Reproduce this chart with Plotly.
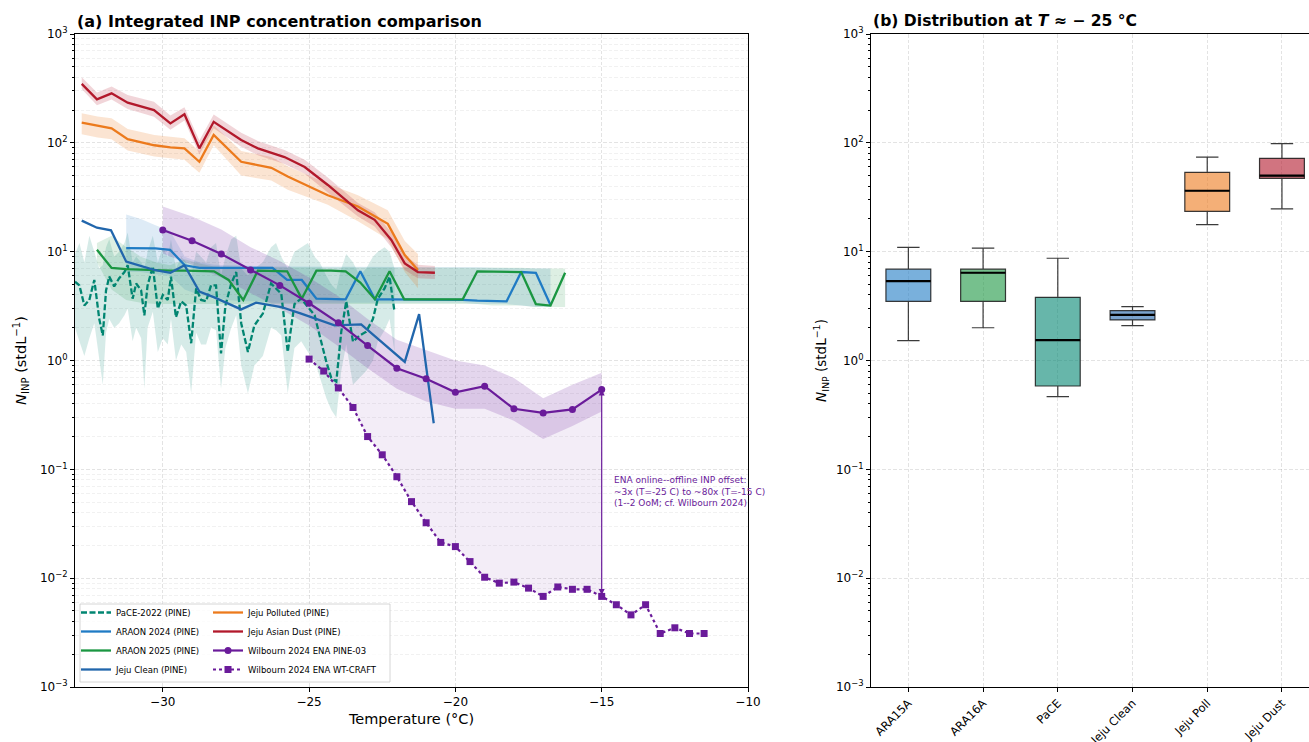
import numpy as np
import plotly.graph_objects as go

# ---------------- data: panel (a) ----------------
pace_T = [-33.0, -32.85, -32.68, -32.51, -32.34, -32.17, -32.05, -31.94, -31.83, -31.66, -31.49, -31.31,
          -31.2, -31.03, -30.91, -30.74, -30.63, -30.52, -30.34, -30.17, -30.0, -29.83, -29.72, -29.55,
          -29.37, -29.2, -29.03, -28.86, -28.69, -28.52, -28.35, -28.18, -28.01, -27.86, -27.66, -27.49,
          -27.32, -27.09, -26.87, -26.58, -26.3, -26.13, -25.95, -25.73, -25.5, -25.27, -25.04, -24.81,
          -24.64, -24.41, -24.24, -24.07, -23.9, -23.73, -23.5, -23.27, -23.05, -22.82, -22.65, -22.42,
          -22.25, -22.08]
pace_n = [5.3, 4.9, 3.2, 3.6, 5.5, 2.4, 1.7, 4.4, 5.9, 4.8, 5.7, 6.5, 7.5, 3.7, 5.1, 4.4, 2.6, 4.9, 7.3,
          3.0, 4.0, 3.6, 5.9, 2.5, 3.5, 3.2, 1.44, 4.6, 3.6, 3.5, 4.9, 4.9, 1.16, 3.2, 5.1, 6.5, 2.2, 1.2,
          2.1, 2.7, 5.1, 4.6, 4.1, 1.2, 3.3, 3.7, 3.1, 2.6, 1.7, 0.97, 0.69, 0.64, 1.84, 3.5, 1.49, 1.7,
          1.84, 2.4, 3.7, 4.6, 5.9, 2.8]
pace_hi = [9.5, 12, 8, 14, 10, 7, 7.5, 11, 13, 9, 10, 12, 15, 8, 9, 8, 7, 10, 14, 8, 11, 9, 13, 7, 9, 8,
           6, 10, 9, 8, 11, 12, 6, 9, 13, 14, 7, 6, 7, 8, 11, 12, 9, 7, 10, 11, 12, 9, 8, 6, 5, 4.5, 7,
           9.5, 8, 6, 7, 9, 10, 11, 10, 7]
pace_lo = [2.0, 1.5, 1.1, 1.6, 2.2, 1.0, 0.6, 1.8, 2.4, 2.0, 2.2, 2.6, 3.0, 1.5, 2.0, 1.6, 0.55, 2.0,
           2.8, 1.2, 1.6, 1.4, 2.4, 1.0, 1.4, 1.2, 0.5, 1.8, 1.4, 1.4, 2.0, 1.9, 0.55, 1.3, 2.0, 2.6, 0.9,
           0.5, 0.9, 1.1, 2.0, 1.9, 1.7, 0.5, 1.3, 1.5, 1.2, 1.0, 0.7, 0.45, 0.35, 0.3, 0.8, 1.4, 0.6,
           0.7, 0.8, 1.0, 1.5, 1.9, 2.4, 1.2]

a24_T = [-31.25, -30.75, -30.25, -29.75, -29.25, -28.75, -28.25, -27.75, -27.25, -26.75, -26.25, -25.75,
         -25.25, -24.75, -24.25, -23.75, -23.25, -22.75, -22.25, -21.75, -21.25, -20.75, -20.25, -19.75,
         -19.25, -18.75, -18.25, -17.75, -17.25, -16.75]
a24_n = [10.8, 10.8, 10.7, 10.4, 7.5, 7.1, 7.1, 7.1, 7.0, 7.1, 7.1, 5.5, 5.5, 3.7, 3.7, 3.65, 6.6, 3.65,
         3.65, 3.65, 3.65, 3.65, 3.6, 3.6, 3.55, 3.5, 3.5, 6.5, 6.4, 3.24]
a24_hi = [22, 20, 17.5, 15.5, 9, 8, 7.6, 7.5, 7.4, 7.4, 7.3, 7.3, 7.3, 7.2, 7.2, 7.2, 7.2, 7.2, 7.2, 7.2,
          7.2, 7.2, 7.2, 7.2, 7.2, 7.1, 7.1, 7.1, 7.0, 7.0]
a24_lo = [6.5, 6.5, 6.2, 6.0, 4.5, 4.0, 3.8, 3.6, 3.5, 3.5, 3.4, 3.4, 3.4, 3.4, 3.4, 3.4, 3.4, 3.4, 3.4,
          3.4, 3.4, 3.4, 3.4, 3.4, 3.3, 3.3, 3.3, 3.2, 3.1, 3.1]

a25_T = [-32.25, -31.75, -31.25, -30.75, -30.25, -29.75, -29.25, -28.75, -28.25, -27.75, -27.25, -26.75,
         -26.25, -25.75, -25.25, -24.75, -24.25, -23.75, -23.25, -22.75, -22.25, -21.75, -21.25, -20.75,
         -20.25, -19.75, -19.25, -18.75, -18.25, -17.75, -17.25, -16.75, -16.25]
a25_n = [10.4, 7.1, 6.9, 6.8, 6.8, 6.7, 6.7, 6.7, 6.6, 5.5, 3.6, 6.7, 6.7, 6.6, 3.7, 6.7, 6.7, 6.6, 5.2,
         3.65, 6.6, 3.65, 3.65, 3.65, 3.65, 3.65, 6.6, 6.6, 6.55, 6.5, 3.3, 3.2, 6.4]
a25_hi = [12, 14, 11, 9, 8, 7.5, 8.5, 7.8, 7.3, 7.2, 7.2, 7.2, 7.2, 7.2, 7.2, 7.2, 7.2, 7.2, 7.2, 7.2,
          7.2, 7.2, 7.2, 7.2, 7.2, 7.2, 7.2, 7.2, 7.1, 7.1, 7.0, 7.0, 7.0]
a25_lo = [8, 4.5, 3.6, 3.4, 3.3, 3.3, 3.3, 3.3, 3.3, 3.3, 3.3, 3.3, 3.3, 3.3, 3.3, 3.3, 3.3, 3.3, 3.3,
          3.3, 3.3, 3.3, 3.3, 3.3, 3.3, 3.3, 3.3, 3.2, 3.2, 3.2, 3.1, 3.1, 3.1]

clean_T = [-32.77, -32.25, -31.77, -31.25, -30.3, -29.74, -29.26, -28.75, -28.24, -27.32, -26.81, -25.95,
           -25.27, -24.58, -24.13, -23.22, -21.73, -21.24, -20.74]
clean_n = [19.3, 16.6, 15.7, 8.1, 6.8, 6.4, 7.5, 4.3, 3.8, 2.95, 3.4, 3.1, 2.7, 2.3, 2.1, 2.15, 0.97,
           2.67, 0.265]

poll_T = [-32.77, -32.23, -31.75, -31.2, -30.29, -29.74, -29.26, -28.75, -28.26, -27.32, -26.29, -25.73,
          -24.36, -23.33, -22.31, -21.73, -21.28]
poll_n = [153, 143, 136, 108, 95, 91, 89, 67, 118, 67, 59, 49, 33, 26, 18, 9.3, 6.8]
poll_hi = [187, 175, 168, 134, 118, 113, 110, 84, 145, 84, 74, 61, 42, 33, 24, 12.5, 9.5]
poll_lo = [120, 112, 108, 85, 75, 72, 70, 53, 95, 50, 45, 37, 27, 19, 13, 6.5, 4.6]

dust_T = [-32.77, -32.25, -31.75, -31.2, -30.3, -29.74, -29.26, -28.75, -28.26, -27.32, -26.75, -25.84,
          -25.15, -24.36, -23.33, -22.76, -22.19, -21.73, -21.28, -20.7]
dust_n = [348, 251, 285, 234, 200, 151, 183, 89, 156, 106, 89, 74, 60, 41, 24, 19.6, 12.8, 7.8, 6.5, 6.4]
dust_hi = [400, 290, 330, 275, 238, 178, 212, 105, 182, 124, 104, 86, 70, 48, 28, 23, 15, 9.2, 7.6, 7.4]
dust_lo = [312, 222, 250, 205, 174, 132, 160, 78, 136, 92, 77, 64, 52, 35, 21, 17, 11, 6.8, 5.7, 5.6]

pine_T = [-30, -29, -28, -27, -26, -25, -24, -23, -22, -21, -20, -19, -18, -17, -16, -15]
pine_n = [15.8, 12.6, 9.5, 6.8, 4.9, 3.36, 2.22, 1.37, 0.85, 0.68, 0.51, 0.58, 0.36, 0.33, 0.355, 0.54]
pine_hi = [26, 21, 16, 11, 8.2, 5.8, 3.9, 2.4, 1.55, 1.25, 1.0, 0.9, 0.69, 0.45, 0.6, 0.77]
pine_lo = [9.6, 7.6, 5.8, 4.2, 3.0, 2.1, 1.35, 0.85, 0.55, 0.42, 0.36, 0.36, 0.28, 0.19, 0.25, 0.34]

wt_T = [-25, -24.5, -24, -23.5, -23, -22.5, -22, -21.5, -21, -20.5, -20, -19.5, -19, -18.5, -18, -17.5,
        -17, -16.5, -16, -15.5, -15, -14.5, -14, -13.5, -13, -12.5, -12, -11.5]
wt_n = [1.03, 0.80, 0.56, 0.37, 0.20, 0.136, 0.0855, 0.0505, 0.0323, 0.0213, 0.0195, 0.0142, 0.0102,
        0.0090, 0.0092, 0.0081, 0.0068, 0.0083, 0.0079, 0.0079, 0.0068, 0.0057, 0.0046, 0.0057, 0.0031,
        0.0035, 0.0031, 0.0031]

# ---------------- data: panel (b) ----------------
box_labels = ["ARA15A", "ARA16A", "PaCE", "Jeju Clean", "Jeju Poll", "Jeju Dust"]
box_low = [1.52, 2.0, 0.465, 2.09, 17.7, 24.7]
box_q1 = [3.5, 3.5, 0.583, 2.36, 23.5, 47.2]
box_med = [5.37, 6.4, 1.54, 2.62, 36.3, 49.9]
box_q3 = [6.9, 6.9, 3.81, 2.87, 53.6, 72.0]
box_high = [10.96, 10.8, 8.7, 3.12, 74.0, 98.3]

ytick_vals = [1e-3, 1e-2, 1e-1, 1e0, 1e1, 1e2, 1e3]
ytick_text = ["10<sup>−3</sup>", "10<sup>−2</sup>", "10<sup>−1</sup>", "10<sup>0</sup>",
              "10<sup>1</sup>", "10<sup>2</sup>", "10<sup>3</sup>"]

# ---------------- styling ----------------
C_PACE = "#018571"
C_A24 = "#1f7bc4"
C_A25 = "#1a9641"
C_CLEAN = "#2166ac"
C_POLL = "#ec7a1c"
C_DUST = "#b2182b"
C_PURP = "#6a1b9a"
FONT = "DejaVu Sans"


def rgba(hex_color, a):
    h = hex_color.lstrip("#")
    r, g, b = int(h[0:2], 16), int(h[2:4], 16), int(h[4:6], 16)
    return f"rgba({r},{g},{b},{a})"


def band(T, lo, hi, color, alpha):
    return go.Scatter(x=list(T) + list(T)[::-1], y=list(hi) + list(lo)[::-1], fill="toself",
                      fillcolor=rgba(color, alpha), line=dict(width=0), mode="lines",
                      hoverinfo="skip", showlegend=False, xaxis="x", yaxis="y")


fig = go.Figure()

# shaded ranges
fig.add_trace(band(pace_T, pace_lo, pace_hi, C_PACE, 0.16))
fig.add_trace(band(a24_T, a24_lo, a24_hi, C_A24, 0.15))
fig.add_trace(band(a25_T, a25_lo, a25_hi, C_A25, 0.15))
fig.add_trace(band(poll_T, poll_lo, poll_hi, C_POLL, 0.2))
fig.add_trace(band(dust_T, dust_lo, dust_hi, C_DUST, 0.18))
fig.add_trace(band(pine_T, pine_lo, pine_hi, C_PURP, 0.18))

# online/offline gap between the two ENA methods (-25 to -15 C)
i_end = wt_T.index(-15)
i_start = pine_T.index(-25)
gap_x = wt_T[:i_end + 1] + pine_T[i_start:][::-1]
gap_y = wt_n[:i_end + 1] + pine_n[i_start:][::-1]
fig.add_trace(go.Scatter(x=gap_x, y=gap_y, fill="toself", fillcolor=rgba(C_PURP, 0.08),
                         line=dict(width=0), mode="lines", hoverinfo="skip", showlegend=False))

# lines (legend column 1 -> legend, column 2 -> legend2)
fig.add_trace(go.Scatter(x=pace_T, y=pace_n, mode="lines", name="PaCE-2022 (PINE)",
                         line=dict(color=C_PACE, width=2.3, dash="6px,2.5px"), legend="legend"))
fig.add_trace(go.Scatter(x=a24_T, y=a24_n, mode="lines", name="ARAON 2024 (PINE)",
                         line=dict(color=C_A24, width=2.3), legend="legend"))
fig.add_trace(go.Scatter(x=a25_T, y=a25_n, mode="lines", name="ARAON 2025 (PINE)",
                         line=dict(color=C_A25, width=2.3), legend="legend"))
fig.add_trace(go.Scatter(x=clean_T, y=clean_n, mode="lines", name="Jeju Clean (PINE)",
                         line=dict(color=C_CLEAN, width=2.3), legend="legend"))
fig.add_trace(go.Scatter(x=poll_T, y=poll_n, mode="lines", name="Jeju Polluted (PINE)",
                         line=dict(color=C_POLL, width=2.3), legend="legend2"))
fig.add_trace(go.Scatter(x=dust_T, y=dust_n, mode="lines", name="Jeju Asian Dust (PINE)",
                         line=dict(color=C_DUST, width=2.3), legend="legend2"))
fig.add_trace(go.Scatter(x=pine_T, y=pine_n, mode="lines+markers", name="Wilbourn 2024 ENA PINE-03",
                         line=dict(color=C_PURP, width=2.2), marker=dict(size=7, color=C_PURP),
                         legend="legend2"))
fig.add_trace(go.Scatter(x=wt_T, y=wt_n, mode="lines+markers", name="Wilbourn 2024 ENA WT-CRAFT",
                         line=dict(color=C_PURP, width=2.2, dash="dot"),
                         marker=dict(size=7, symbol="square", color=C_PURP), legend="legend2"))

# ---------------- panel (b): boxes ----------------
box_colors = [C_A24, C_A25, C_PACE, C_CLEAN, C_POLL, C_DUST]
BOX_W = 0.6
for i, lab in enumerate(box_labels):
    fig.add_trace(go.Box(x=[i], q1=[box_q1[i]], median=[box_med[i]], q3=[box_q3[i]],
                         lowerfence=[box_low[i]], upperfence=[box_high[i]], width=BOX_W,
                         whiskerwidth=0.5, fillcolor=rgba(box_colors[i], 0.6),
                         line=dict(color="rgba(25,25,25,0.85)", width=1.2), name=lab,
                         showlegend=False, hoverinfo="skip", xaxis="x2", yaxis="y2"))
    fig.add_trace(go.Scatter(x=[i - BOX_W / 2, i + BOX_W / 2], y=[box_med[i], box_med[i]], mode="lines",
                             line=dict(color="black", width=2.2), showlegend=False, hoverinfo="skip",
                             xaxis="x2", yaxis="y2"))

# ---------------- layout ----------------
W, H = 1309, 742
ML, MR, MT, MB = 75, 0, 34, 55
PW, PH = W - ML - MR, H - MT - MB


def px_x(p):
    return (p - ML) / PW


def px_y(p):
    return (H - MB - p) / PH


minor_vals = [k * 10.0 ** e for e in range(-3, 3) for k in range(2, 10)]
GRID_DASH = "3.5px,2px"
grid_major = "rgba(0,0,0,0.11)"
grid_minor = "rgba(0,0,0,0.055)"

axis_common = dict(showline=True, linecolor="black", linewidth=1, mirror=True, ticks="outside",
                   ticklen=4, tickwidth=1, tickcolor="black", zeroline=False, automargin=False,
                   tickfont=dict(size=12, family=FONT, color="black"))

fig.update_layout(
    width=W, height=H, autosize=False,
    margin=dict(l=ML, r=MR, t=MT, b=MB, autoexpand=False),
    paper_bgcolor="white", plot_bgcolor="white",
    font=dict(family=FONT, size=12, color="black"),
    boxmode="overlay",
    xaxis=dict(domain=[0, px_x(748)], range=[-33, -10], tickvals=[-30, -25, -20, -15, -10],
               showgrid=True, gridcolor=grid_major, griddash=GRID_DASH, gridwidth=0.8,
               title=dict(text="Temperature (°C)", font=dict(size=14.5, family=FONT), standoff=5),
               anchor="y", **axis_common),
    yaxis=dict(type="log", range=[-3, 3], tickvals=ytick_vals, ticktext=ytick_text,
               showgrid=True, gridcolor=grid_major, griddash=GRID_DASH, gridwidth=0.8,
               minor=dict(tickvals=minor_vals, ticks="outside", ticklen=2.2, tickcolor="black",
                          showgrid=True, gridcolor=grid_minor, griddash=GRID_DASH, gridwidth=0.8),
               title=dict(text="<i>N</i><sub>INP</sub> (stdL<sup>−1</sup>)",
                          font=dict(size=14.5, family=FONT), standoff=9),
               anchor="x", **axis_common),
    xaxis2=dict(domain=[px_x(871), 1.0], range=[-0.5, 5.362], tickvals=list(range(len(box_labels))),
                ticktext=box_labels, tickangle=-45, showgrid=True, gridcolor=grid_major,
                griddash=GRID_DASH, gridwidth=0.8, anchor="y2",
                **{**axis_common, "tickfont": dict(size=11.5, family=FONT, color="black")}),
    yaxis2=dict(type="log", range=[-3, 3], tickvals=ytick_vals, ticktext=ytick_text,
                showgrid=True, gridcolor=grid_major, griddash=GRID_DASH, gridwidth=0.8,
                minor=dict(tickvals=minor_vals, ticks="outside", ticklen=2.2, tickcolor="black",
                           showgrid=False),
                title=dict(text="<i>N</i><sub>INP</sub> (stdL<sup>−1</sup>)",
                           font=dict(size=13.5, family=FONT), standoff=6),
                anchor="x2", **axis_common),
    legend=dict(x=px_x(76), y=px_y(684), xanchor="left", yanchor="bottom", bgcolor="rgba(0,0,0,0)",
                borderwidth=0, font=dict(size=8.5, family=FONT), tracegroupgap=0, itemwidth=30),
    legend2=dict(x=px_x(208), y=px_y(684), xanchor="left", yanchor="bottom", bgcolor="rgba(0,0,0,0)",
                 borderwidth=0, font=dict(size=8.5, family=FONT), tracegroupgap=0, itemwidth=30),
)

# legend frame shared by both legend columns
fig.add_shape(type="rect", xref="paper", yref="paper", x0=px_x(80), x1=px_x(390), y0=px_y(682),
              y1=px_y(604), line=dict(color="#cccccc", width=0.8), fillcolor="rgba(255,255,255,0.8)",
              layer="above")

# double-headed arrow marking the method offset at -15 C
y_top = pine_n[pine_T.index(-15)]
y_bot = wt_n[wt_T.index(-15)]
fig.add_annotation(x=-15, y=np.log10(y_top), ax=-15, ay=np.log10(y_bot), xref="x", yref="y",
                   axref="x", ayref="y", text="", showarrow=True, arrowhead=2, arrowside="end+start",
                   arrowsize=1, arrowwidth=1.2, arrowcolor=C_PURP)
fig.add_annotation(x=-14.65, y=np.log10(0.062), xref="x", yref="y", xanchor="left", yanchor="middle",
                   align="left", showarrow=False,
                   text="ENA online--offline INP offset:<br>~3x (T=-25 C) to ~80x (T=-15 C)<br>"
                        "(1--2 OoM; cf. Wilbourn 2024)",
                   font=dict(size=9, family=FONT, color=C_PURP))

# panel titles
fig.add_annotation(x=px_x(75), y=px_y(21), xref="paper", yref="paper", xanchor="left", yanchor="middle",
                   showarrow=False, text="<b>(a) Integrated INP concentration comparison</b>",
                   font=dict(size=16, family=FONT))
fig.add_annotation(x=px_x(871), y=px_y(21), xref="paper", yref="paper", xanchor="left", yanchor="middle",
                   showarrow=False, text="<b>(b) Distribution at <i>T</i> ≈ − 25 °C</b>",
                   font=dict(size=15.6, family=FONT))

fig.write_html("out.html")
